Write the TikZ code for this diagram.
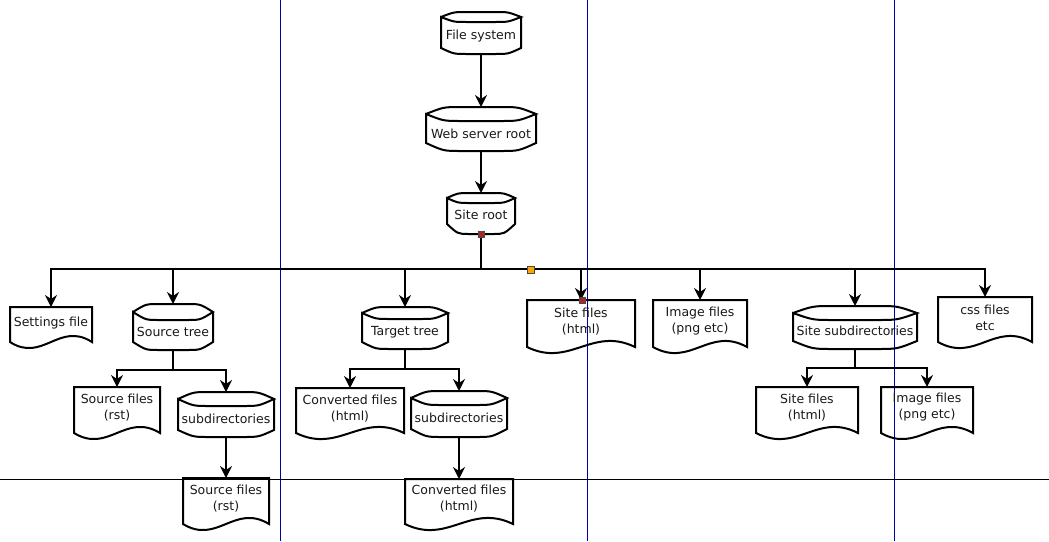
\documentclass[tikz,border=0pt]{standalone}
\usepackage{fontspec}
\setmainfont{DejaVu Sans}
\usetikzlibrary{arrows.meta}
\definecolor{pageblue}{RGB}{0,0,170}
\definecolor{handlered}{RGB}{220,20,20}
\definecolor{handleorange}{RGB}{255,165,0}
\tikzset{
  shp/.style={line width=2pt, line join=miter},
  arr/.style={line width=2pt, -{Stealth[length=12pt,width=12pt,inset=4pt]}},
  txt/.style={inner sep=0pt, font=\fontsize{12.5}{16}\selectfont, align=center, text=black!90},
  frame/.style={inner sep=0pt, outer sep=0pt},
  pageline/.style={line width=0.8pt, draw=pageblue},
  breakline/.style={line width=0.8pt, draw=black},
  handle/.style={draw=black!70, line width=0.5pt, minimum size=6pt, inner sep=0pt},
}
% storage shape: name, x0, x1, ypeak, ycorner, ybotcorner, ybottom, ytext, text
\newcommand\storeshape[9]{%
  \pgfmathsetmacro\sw{#3-#2}%
  \pgfmathsetmacro\sh{#7-#4}%
  \pgfmathsetmacro\sa{#5-#4}%
  \pgfmathsetmacro\sb{#7-#6}%
  \pgfmathsetmacro\xa{#2+0.16*\sw}%
  \pgfmathsetmacro\xb{#2+0.32*\sw}%
  \pgfmathsetmacro\xc{#3-0.32*\sw}%
  \pgfmathsetmacro\xd{#3-0.16*\sw}%
  \node[frame, anchor=north west, minimum width=\sw pt, minimum height=\sh pt] (#1) at (#2,#4) {};
  \draw[shp] (#2,#5) .. controls (\xa,{#5-\sa}) .. (\xb,{#5-\sa}) -- (\xc,{#5-\sa})
       .. controls (\xd,{#5-\sa}) .. (#3,#5)
     .. controls (\xd,{#5+\sa}) .. (\xc,{#5+\sa}) -- (\xb,{#5+\sa})
       .. controls (\xa,{#5+\sa}) .. (#2,#5)
     -- (#2,#6) .. controls (\xa,{#6+\sb}) .. (\xb,{#6+\sb}) -- (\xc,{#6+\sb})
       .. controls (\xd,{#6+\sb}) .. (#3,#6) -- (#3,#5);
  \node[txt] (#1-t) at ({(#2+#3)/2},{#8+1}) {#9};
}
% document shape: name, x0, x1, ytop, ycorner, ytext, text
\newcommand\docshape[7]{%
  \pgfmathsetmacro\dw{#3-#2}%
  \pgfmathsetmacro\dh{#5-#4}%
  \node[frame, anchor=north west, minimum width=\dw pt, minimum height=\dh pt] (#1) at (#2,#4) {};
  \draw[shp] (#2,#5) -- (#2,#4) -- (#3,#4) -- (#3,#5)
     .. controls ({#2+0.6*\dw},{#5-21}) and ({#2+0.4*\dw},{#5+21}) .. (#2,#5) -- cycle;
  \node[txt] (#1-t) at ({(#2+#3)/2},{#6+1.5}) {#7};
}
\begin{document}
\begin{tikzpicture}[x=1pt,y=-1pt]
\useasboundingbox (0,0) rectangle (1049,541);
\fill[white] (0,0) rectangle (1049,541);
% page break lines
\draw[pageline] (280,0) -- (280,541);
\draw[pageline] (587,0) -- (587,541);
\draw[pageline] (894,0) -- (894,541);
\draw[breakline] (0,479) -- (1049,479);

% top chain
\storeshape{fs}{441}{521}{12}{17}{48}{54}{35}{File system}
\storeshape{ws}{426}{536}{107}{114}{143}{151}{133}{Web server root}
\storeshape{sr}{447}{515}{193}{198}{224}{234}{214}{Site root}

% level 1
\docshape{settings}{10}{92}{307}{342}{322}{Settings file}
\storeshape{srctree}{133}{213}{304}{312}{342}{350}{331}{Source tree}
\storeshape{tgttree}{362}{448}{307}{313}{342}{349}{331}{Target tree}
\docshape{sitefiles}{527}{635}{300}{347}{320}{Site files\\(html)}
\docshape{imgfiles}{653}{747}{300}{347}{320}{Image files\\(png etc)}
\storeshape{sitesub}{793}{917}{306}{313}{341}{349}{330}{Site subdirectories}
\docshape{css}{938}{1032}{297}{342}{316}{css files\\etc}

% level 2
\docshape{srcfiles}{74}{160}{387}{433}{406}{Source files\\(rst)}
\storeshape{srcsub}{178}{274}{392}{399}{430}{437}{418}{subdirectories}
\docshape{convfiles}{296}{404}{388}{433}{407}{Converted files\\(html)}
\storeshape{tgtsub}{411}{507}{391}{398}{429}{437}{417}{subdirectories}
\docshape{sitefilesb}{756}{858}{387}{433}{406}{Site files\\(html)}
\docshape{imgfilesb}{881}{973}{387}{433}{406}{Image files\\(png etc)}

% level 3
\docshape{srcfilesb}{183}{269}{478}{524}{497}{Source files\\(rst)}
\docshape{convfilesb}{405}{513}{479}{524}{497}{Converted files\\(html)}

% connectors
\draw[arr] (fs.south) -- (ws.north);
\draw[arr] (ws.south) -- (sr.north);
\coordinate (bus) at (481,269);
\foreach \c in {settings,srctree,tgttree,sitefiles,imgfiles,sitesub,css}
  \draw[arr] (sr.south) -- (sr.south |- bus) -| (\c.north);
\coordinate (srcbus) at (173,370);
\foreach \c in {srcfiles,srcsub}
  \draw[arr] (srctree.south) -- (srctree.south |- srcbus) -| (\c.north);
\coordinate (tgtbus) at (405,369);
\foreach \c in {convfiles,tgtsub}
  \draw[arr] (tgttree.south) -- (tgttree.south |- tgtbus) -| (\c.north);
\coordinate (subbus) at (855,368);
\foreach \c in {sitefilesb,imgfilesb}
  \draw[arr] (sitesub.south) -- (sitesub.south |- subbus) -| (\c.north);
\draw[arr] (srcsub.south) -- (srcfilesb.north);
\draw[arr] (tgtsub.south) -- (convfilesb.north);

% selection handles
\node[handle, fill=handlered] (h1) at (sr.south) {};
\draw[black!70, line width=0.4pt] (h1.north west) -- (h1.south east) (h1.north east) -- (h1.south west);
\node[handle, fill=handlered] (h2) at ([xshift=1pt]sitefiles.north) {};
\draw[black!70, line width=0.4pt] (h2.north west) -- (h2.south east) (h2.north east) -- (h2.south west);
\node[handle, fill=handleorange, minimum size=7pt] (h3) at (531,270) {};
\end{tikzpicture}
\end{document}
